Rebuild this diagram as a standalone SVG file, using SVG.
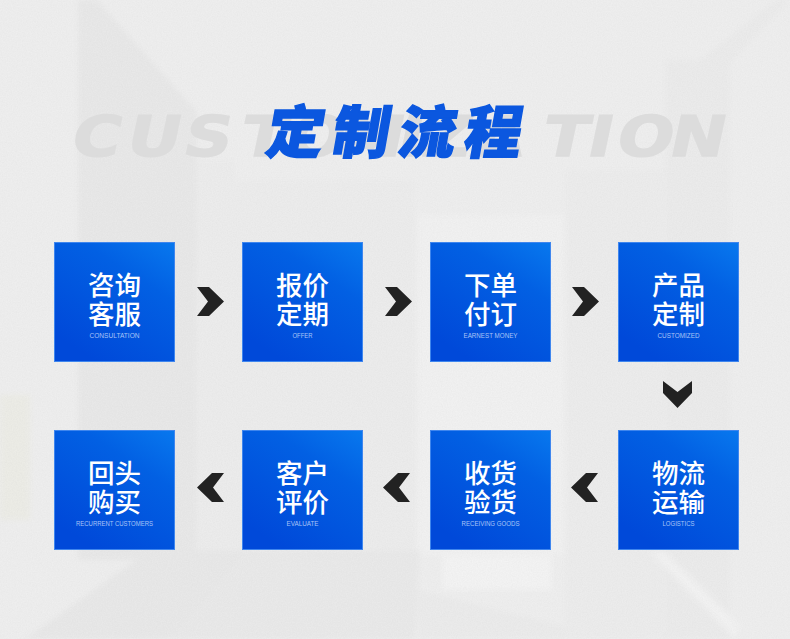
<svg xmlns="http://www.w3.org/2000/svg" width="790" height="639" viewBox="0 0 790 639">
<style>
.cn{font-family:"Noto Sans CJK SC","Noto Sans",sans-serif;font-size:26.500px;font-weight:500;fill:#fff;text-anchor:middle}
.en{font-family:"Liberation Sans",Arial,sans-serif;font-size:6.500px;fill:#a9c4f7;text-anchor:middle}
.box{fill:url(#g);stroke:#3f86ee;stroke-width:1}
.ch{fill:#222}
</style>
<defs>
<linearGradient id="g" x1="1" y1="0" x2="0.35" y2="1"><stop offset="0" stop-color="#0878ee"/><stop offset="0.35" stop-color="#0260e3"/><stop offset="1" stop-color="#0049d9"/></linearGradient>
<filter id="b" x="-20%" y="-20%" width="140%" height="140%"><feGaussianBlur stdDeviation="2.500"/></filter>
<filter id="n" x="0" y="0" width="100%" height="100%"><feTurbulence type="fractalNoise" baseFrequency="0.8" numOctaves="2" seed="4"/><feColorMatrix values="0 0 0 0 0.45 0 0 0 0 0.45 0 0 0 0 0.45 0.5 0 0 0 -0.12"/></filter>
<polygon id="r" points="0,0 12,0 27,14.500 12,29 0,29 11,14.500"/>
</defs>
<g id="background">
<rect width="790" height="639" fill="#eeeeee"/>
<g filter="url(#b)">
<rect x="0" y="395" width="30" height="125" fill="#ecece6"/>
<polygon points="78,0 97,0 197,112 197,560 78,560" fill="#e8e8e8"/>
<rect x="197" y="160" width="38" height="400" fill="#ececec"/>
<rect x="235" y="180" width="180" height="459" fill="#ececec"/>
<rect x="418" y="215" width="148" height="340" fill="#f1f1f1"/>
<rect x="442" y="555" width="110" height="35" fill="#f3f3f3"/>
<polygon points="418,590 560,625 590,639 418,639" fill="#ebebeb"/>
<rect x="565" y="170" width="100" height="469" fill="#ececec"/>
<rect x="665" y="60" width="65" height="579" fill="#ebebeb"/>
<polygon points="25,639 150,550 250,550 170,639" fill="#e8e8e8"/>
<polygon points="170,639 250,550 420,550 415,639" fill="#e9e9e9"/>
<polygon points="650,552 665,552 740,625 735,639" fill="#f2f2f2"/>
<polygon points="700,60 775,0 790,0 705,90" fill="#ebebeb"/>
</g>
<rect width="790" height="639" filter="url(#n)" opacity="0.3"/>
</g>
<g id="title">
<text transform="translate(0 156) skewX(-12) scale(1.18 1)" y="0" x="58.500 105.100 153.400 201.700 241.500 283.900 334.700 355.900 398.300 457.600 495.800 520.300 565.300" font-family="'DejaVu Sans',sans-serif" font-size="56" font-weight="700" fill="#dcdcdc" stroke="#dcdcdc" stroke-width="1.500">CUSTOMIZATION</text>
<text transform="translate(264 153) skewX(-10)" x="0" y="0" font-family="'Noto Sans CJK SC',sans-serif" font-size="57" font-weight="900" fill="#0b57df" stroke="#0b57df" stroke-width="1.500" letter-spacing="9">定制流程</text>
</g>
<g id="connectors">
<use href="#r" class="ch" x="197" y="287"/>
<use href="#r" class="ch" x="385" y="287"/>
<use href="#r" class="ch" x="572" y="287"/>
<use href="#r" class="ch" transform="translate(692 381) rotate(90)"/>
<use href="#r" class="ch" transform="translate(598 502) rotate(180)"/>
<use href="#r" class="ch" transform="translate(410 502) rotate(180)"/>
<use href="#r" class="ch" transform="translate(224 502) rotate(180)"/>
</g>
<g id="node1"><rect class="box" x="54.500" y="242.500" width="120" height="119"/><text class="cn" x="114.500" y="295">咨询</text><text class="cn" x="114.500" y="324">客服</text><text class="en" x="114.500" y="338" textLength="50" lengthAdjust="spacingAndGlyphs">CONSULTATION</text></g>
<g id="node2"><rect class="box" x="242.500" y="242.500" width="120" height="119"/><text class="cn" x="302.500" y="295">报价</text><text class="cn" x="302.500" y="324">定期</text><text class="en" x="302.500" y="338" textLength="20" lengthAdjust="spacingAndGlyphs">OFFER</text></g>
<g id="node3"><rect class="box" x="430.500" y="242.500" width="120" height="119"/><text class="cn" x="490.500" y="295">下单</text><text class="cn" x="490.500" y="324">付订</text><text class="en" x="490.500" y="338" textLength="54" lengthAdjust="spacingAndGlyphs">EARNEST MONEY</text></g>
<g id="node4"><rect class="box" x="618.500" y="242.500" width="120" height="119"/><text class="cn" x="678.500" y="295">产品</text><text class="cn" x="678.500" y="324">定制</text><text class="en" x="678.500" y="338" textLength="42" lengthAdjust="spacingAndGlyphs">CUSTOMIZED</text></g>
<g id="node5"><rect class="box" x="618.500" y="430.500" width="120" height="119"/><text class="cn" x="678.500" y="483">物流</text><text class="cn" x="678.500" y="512">运输</text><text class="en" x="678.500" y="526" textLength="32" lengthAdjust="spacingAndGlyphs">LOGISTICS</text></g>
<g id="node6"><rect class="box" x="430.500" y="430.500" width="120" height="119"/><text class="cn" x="490.500" y="483">收货</text><text class="cn" x="490.500" y="512">验货</text><text class="en" x="490.500" y="526" textLength="58" lengthAdjust="spacingAndGlyphs">RECEIVING GOODS</text></g>
<g id="node7"><rect class="box" x="242.500" y="430.500" width="120" height="119"/><text class="cn" x="302.500" y="483">客户</text><text class="cn" x="302.500" y="512">评价</text><text class="en" x="302.500" y="526" textLength="32" lengthAdjust="spacingAndGlyphs">EVALUATE</text></g>
<g id="node8"><rect class="box" x="54.500" y="430.500" width="120" height="119"/><text class="cn" x="114.500" y="483">回头</text><text class="cn" x="114.500" y="512">购买</text><text class="en" x="114.500" y="526" textLength="77" lengthAdjust="spacingAndGlyphs">RECURRENT CUSTOMERS</text></g>
</svg>
